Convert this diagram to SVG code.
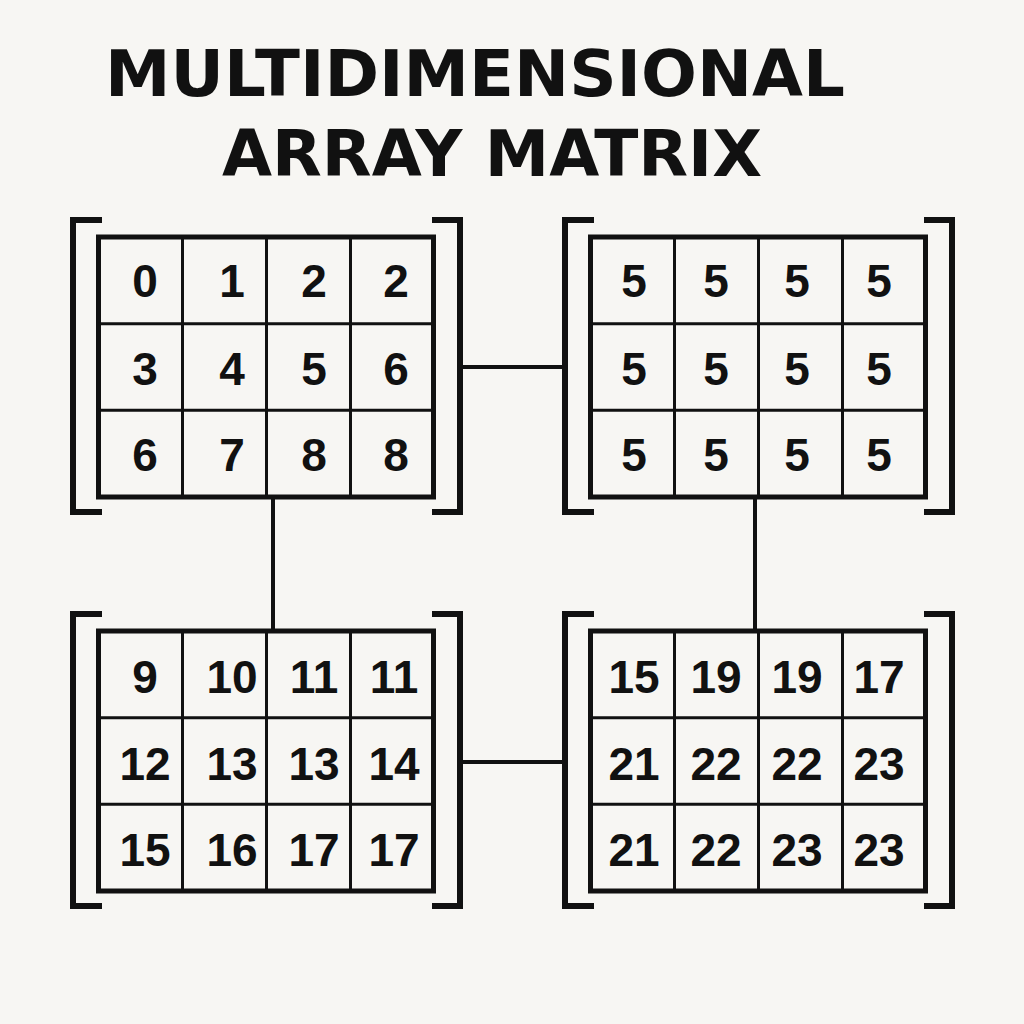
<svg xmlns="http://www.w3.org/2000/svg" width="1024" height="1024" viewBox="0 0 1024 1024">
<style>
.g{fill:none;stroke:#111;stroke-width:5}
.l{stroke:#111;stroke-width:3}
.b{fill:none;stroke:#111;stroke-width:6}
.c{stroke:#111;stroke-width:4;fill:none}
.n{font-family:"Liberation Sans",Arial,sans-serif;font-weight:bold;font-size:46px;fill:#111;text-anchor:middle}
.t{font-family:"DejaVu Sans",sans-serif;font-weight:bold;font-size:64px;fill:#111}
</style>
<defs>
<g id="frame">
<path class="b" d="M102,220 H73 V512 H102"/>
<path class="b" d="M432,220 H460 V512 H432"/>
<rect class="g" x="98.5" y="237" width="335" height="260"/>
<line class="l" x1="182.5" y1="237" x2="182.5" y2="497"/>
<line class="l" x1="266.5" y1="237" x2="266.5" y2="497"/>
<line class="l" x1="350.5" y1="237" x2="350.5" y2="497"/>
<line class="l" x1="98.5" y1="323.7" x2="433.5" y2="323.7"/>
<line class="l" x1="98.5" y1="410.3" x2="433.5" y2="410.3"/>
</g>
</defs>
<rect width="1024" height="1024" fill="#f7f6f3"/>
<text class="t" x="105" y="96" textLength="740" lengthAdjust="spacingAndGlyphs">MULTIDIMENSIONAL</text>
<text class="t" x="222" y="176" textLength="540" lengthAdjust="spacingAndGlyphs">ARRAY MATRIX</text>
<g id="connectors">
<line class="c" x1="460" y1="367" x2="566" y2="367"/>
<line class="c" x1="460" y1="762" x2="566" y2="762"/>
<line class="c" x1="273" y1="497" x2="273" y2="630"/>
<line class="c" x1="755" y1="497" x2="755" y2="630"/>
</g>
<g id="m1"><use href="#frame"/>
<g class="n">
<text x="145" y="297">0</text><text x="232" y="297">1</text><text x="314" y="297">2</text><text x="396" y="297">2</text>
<text x="145" y="385">3</text><text x="232" y="385">4</text><text x="314" y="385">5</text><text x="396" y="385">6</text>
<text x="145" y="471">6</text><text x="232" y="471">7</text><text x="314" y="471">8</text><text x="396" y="471">8</text>
</g></g>
<g id="m2"><use href="#frame" transform="translate(492,0)"/>
<g class="n">
<text x="634" y="297">5</text><text x="716" y="297">5</text><text x="797" y="297">5</text><text x="879" y="297">5</text>
<text x="634" y="385">5</text><text x="716" y="385">5</text><text x="797" y="385">5</text><text x="879" y="385">5</text>
<text x="634" y="471">5</text><text x="716" y="471">5</text><text x="797" y="471">5</text><text x="879" y="471">5</text>
</g></g>
<g id="m3"><use href="#frame" transform="translate(0,394)"/>
<g class="n">
<text x="145" y="693">9</text><text x="232" y="693">10</text><text x="314" y="693">11</text><text x="394" y="693">11</text>
<text x="145" y="780">12</text><text x="232" y="780">13</text><text x="314" y="780">13</text><text x="394" y="780">14</text>
<text x="145" y="866">15</text><text x="232" y="866">16</text><text x="314" y="866">17</text><text x="394" y="866">17</text>
</g></g>
<g id="m4"><use href="#frame" transform="translate(492,394)"/>
<g class="n">
<text x="634" y="693">15</text><text x="716" y="693">19</text><text x="797" y="693">19</text><text x="879" y="693">17</text>
<text x="634" y="780">21</text><text x="716" y="780">22</text><text x="797" y="780">22</text><text x="879" y="780">23</text>
<text x="634" y="866">21</text><text x="716" y="866">22</text><text x="797" y="866">23</text><text x="879" y="866">23</text>
</g></g>
</svg>
